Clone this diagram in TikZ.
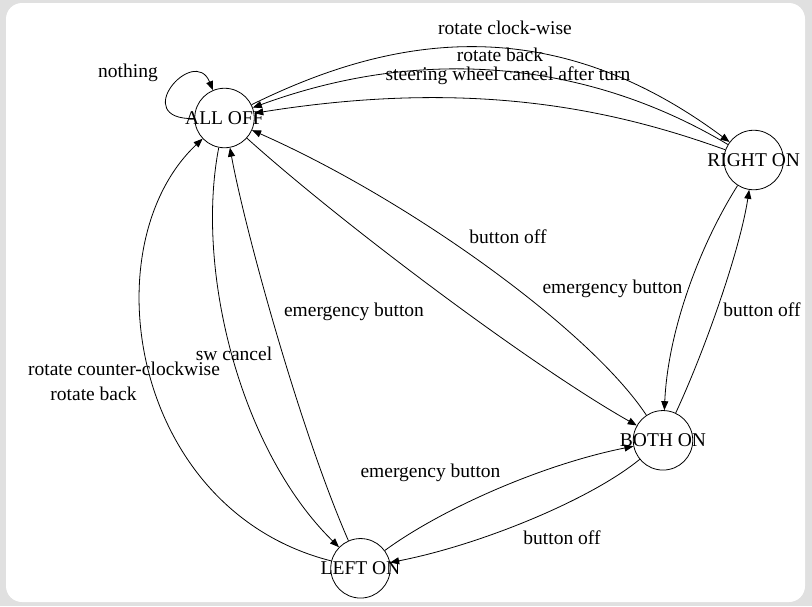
\documentclass[tikz,border=0pt]{standalone}
\usepackage{fontspec}
\setmainfont{Liberation Serif}
\usetikzlibrary{arrows.meta}
\definecolor{pagegray}{HTML}{E0E0E0}

\begin{document}
\begin{tikzpicture}[
    x=1pt, y=-1pt,
    >={Triangle[length=9pt, width=7pt]},
    state/.style={circle, draw, line width=0.8pt, minimum size=59.5pt, inner sep=0pt,
                  font=\fontsize{19.5}{23}\selectfont},
    elabel/.style={inner sep=0pt, font=\fontsize{19.5}{23}\selectfont},
    edge/.style={->, line width=0.8pt},
]

% ============================================================
% Background
% ============================================================
\useasboundingbox (0,0) rectangle (812,606);
\fill[pagegray] (0,0) rectangle (812,606);
\fill[white, rounded corners=16pt] (6,3) rectangle (805,602);

% ============================================================
% States
% ============================================================
\node[state] (alloff)  at (224.5,118) {\makebox[0pt]{ALL OFF}};
\node[state] (righton) at (753.7,160) {\makebox[0pt]{RIGHT ON}};
\node[state] (bothon)  at (663,440.3) {\makebox[0pt]{BOTH ON}};
\node[state] (lefton)  at (360.5,568.3) {\makebox[0pt]{LEFT ON}};

% ============================================================
% Transitions
% ============================================================
% self loop
\draw[edge] (alloff) .. controls (128,120) and (194,44) .. (alloff);

% ALL OFF <-> RIGHT ON
\draw[edge] (alloff) .. controls (375,44) and (539,0) .. (righton);
\draw[edge] (righton) .. controls (607,72) and (443,38) .. (alloff);
\draw[edge] (righton) .. controls (615,110) and (474,78) .. (alloff);

% ALL OFF <-> BOTH ON
\draw[edge] (alloff) .. controls (340,222) and (530,365) .. (bothon);
\draw[edge] (bothon) .. controls (590,330) and (410,200) .. (alloff);

% RIGHT ON <-> BOTH ON
\draw[edge] (righton) .. controls (700,245) and (668,330) .. (bothon);
\draw[edge] (bothon) .. controls (705,350) and (740,250) .. (righton);

% ALL OFF <-> LEFT ON
\draw[edge] (alloff) .. controls (195,270) and (240,450) .. (lefton);
\draw[edge] (lefton) .. controls (300,430) and (245,230) .. (alloff);
\draw[edge] (lefton) .. controls (130,510) and (90,245) .. (alloff);

% LEFT ON <-> BOTH ON
\draw[edge] (lefton) .. controls (440,510) and (540,465) .. (bothon);
\draw[edge] (bothon) .. controls (590,500) and (480,545) .. (lefton);

% ============================================================
% Labels
% ============================================================
\node[elabel] (l-nothing)  at (128,73)    {nothing};
\node[elabel] (l-cw)       at (505,28)    {rotate clock-wise};
\node[elabel] (l-back1)    at (500,55)    {rotate back};
\node[elabel] (l-steer)    at (508,76)    {steering wheel cancel after turn};
\node[elabel] (l-off1)     at (508,237)   {button off};
\node[elabel] (l-emerg1)   at (612.5,289) {emergency button};
\node[elabel] (l-off2)     at (762,310)   {button off};
\node[elabel] (l-emerg2)   at (354,312)   {emergency button};
\node[elabel] (l-swcancel) at (234,354)   {sw cancel};
\node[elabel] (l-ccw)      at (124,369)   {rotate counter-clockwise};
\node[elabel] (l-back2)    at (93.5,394)  {rotate back};
\node[elabel] (l-emerg3)   at (430.5,473) {emergency button};
\node[elabel] (l-off3)     at (562,538)   {button off};

\end{tikzpicture}
\end{document}
